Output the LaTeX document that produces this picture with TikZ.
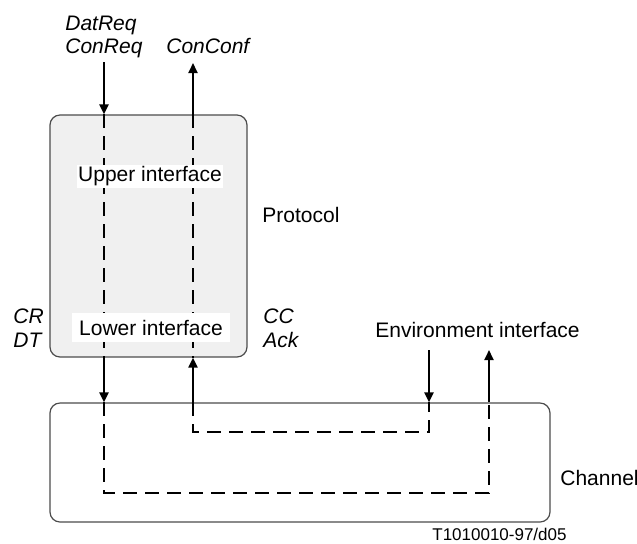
\documentclass[tikz,border=0pt]{standalone}
\usepackage{fontspec}
\setmainfont{Liberation Sans}
\usetikzlibrary{arrows.meta}

\def\figscale{0.5pt}

\begin{document}
\begin{tikzpicture}[x=\figscale,y=-\figscale,
  font=\fontsize{10.5}{12}\selectfont,
  sig/.style={line width=1pt,-{Triangle[length=5pt,width=4.5pt]}},
  flow/.style={line width=1pt,dash pattern=on 7pt off 4pt},
  box/.style={draw=black!70,line width=0.6pt,rounded corners=5pt},
  iface/.style={fill=white,inner sep=0pt},
  lbl/.style={anchor=base west,inner sep=0pt},
  msg/.style={lbl,font=\fontsize{10.5}{12}\selectfont\itshape}]
  \useasboundingbox (0,0) rectangle (637,543);

  % the two boxes
  \node[box,fill=gray!12,minimum width=98.5pt,minimum height=121pt]
    (protocol) at (148.5,236) {};
  \node[box,minimum width=250pt,minimum height=59.5pt]
    (channel) at (300,462.5) {};

  % free ends of the signals
  \coordinate (datin)   at (104,62);
  \coordinate (confout) at (193,63);
  \coordinate (envin)   at (429,350);
  \coordinate (envout)  at (489,350);

  % left path: requests down
  \draw[sig] (datin) -- (datin |- protocol.north);
  \draw[flow] (datin |- protocol.north) -- (datin |- protocol.south);
  \draw[sig] (datin |- protocol.south) -- (datin |- channel.north);
  \draw[flow] (datin |- channel.north) -- (104,493) -- (489,493)
    -- (envout |- channel.north);
  \draw[sig] (envout |- channel.north) -- (envout);

  % right path: confirmations up
  \draw[sig] (confout |- protocol.north) -- (confout);
  \draw[flow] (confout |- protocol.north) -- (confout |- protocol.south);
  \draw[sig] (confout |- channel.north) -- (confout |- protocol.south);
  \draw[flow] (confout |- channel.north) -- (193,432) -- (429,432)
    -- (envin |- channel.north);
  \draw[sig] (envin) -- (envin |- channel.north);

  % interfaces
  \node[iface,minimum width=73pt,minimum height=11.5pt] (upper) at (150,176.5) {Upper interface};
  \node[iface,minimum width=79pt,minimum height=14.5pt] (lower) at (151,327.5) {Lower interface};

  % labels
  \node[msg] (datreq)  at (65,30)   {DatReq};
  \node[msg] (conreq)  at (65,53)   {ConReq};
  \node[msg] (conconf) at (166,53)  {ConConf};
  \node[msg] (cr)      at (13,323)  {CR};
  \node[msg] (dt)      at (13,347)  {DT};
  \node[msg] (cc)      at (263,323) {CC};
  \node[msg] (ack)     at (263,347) {Ack};
  \node[lbl] (prot)    at (262,222) {Protocol};
  \node[lbl] (env)     at (375,337) {Environment interface};
  \node[lbl] (chan)    at (560,485) {Channel};
  \node[anchor=base east,inner sep=0pt,font=\fontsize{8.5}{10}\selectfont]
    (ref) at (567,540) {T1010010-97/d05};
\end{tikzpicture}
\end{document}
